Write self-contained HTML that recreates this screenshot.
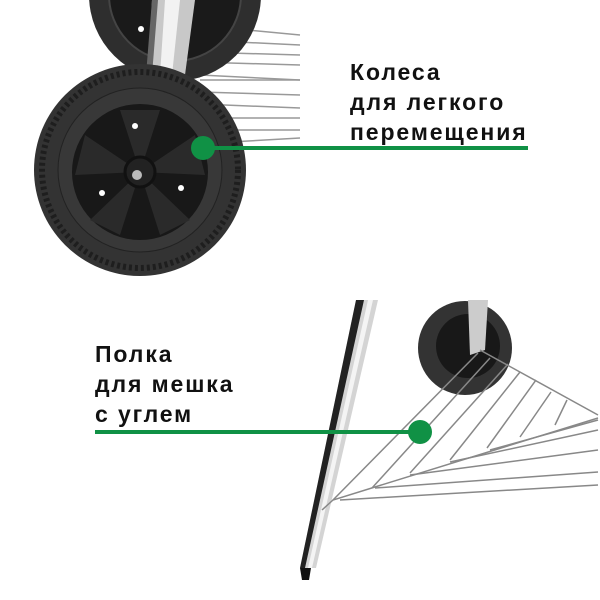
<!DOCTYPE html>
<html><head><meta charset="utf-8"><style>
body{margin:0;background:#fff}
.t{position:absolute;font-family:"Liberation Sans",sans-serif;font-weight:bold;font-size:23px;line-height:30px;color:#111;letter-spacing:1.9px}
</style></head><body>
<div style="position:relative;width:600px;height:600px;overflow:hidden">
<svg width="600" height="600" style="position:absolute;left:0;top:0">
<g stroke="#999" stroke-width="1.5">
<line x1="195" y1="25" x2="300" y2="35"/><line x1="195" y1="40" x2="300" y2="45"/>
<line x1="195" y1="52" x2="300" y2="55"/><line x1="195" y1="62" x2="300" y2="65"/>
<line x1="200" y1="80" x2="300" y2="80"/><line x1="200" y1="92" x2="300" y2="95"/>
<line x1="200" y1="104" x2="300" y2="108"/><line x1="220" y1="118" x2="300" y2="118"/>
<line x1="230" y1="130" x2="300" y2="130"/><line x1="230" y1="142" x2="300" y2="138"/>
<line x1="200" y1="75" x2="300" y2="80"/>
</g>
<circle cx="175" cy="-5" r="86" fill="#2e2e2e"/>
<circle cx="175" cy="-5" r="66" fill="#1a1a1a" stroke="#444" stroke-width="2"/>
<circle cx="141" cy="29" r="3" fill="#fff"/>
<polygon points="152,0 195,0 185,75 148,75" fill="#c8c8c8"/>
<polygon points="165,0 180,0 172,75 160,75" fill="#f2f2f2"/>
<polygon points="152,0 158,0 152,75 146,75" fill="#666"/>
<circle cx="140" cy="170" r="106" fill="#333"/>
<circle cx="140" cy="170" r="98" fill="none" stroke="#1e1e1e" stroke-width="6" stroke-dasharray="3 3"/>
<circle cx="140" cy="170" r="82" fill="#383838" stroke="#222" stroke-width="1"/>
<circle cx="140" cy="172" r="68" fill="#181818"/>
<g fill="#2a2a2a">
<polygon points="140,172 120,110 160,110"/><polygon points="140,172 195,135 205,175"/>
<polygon points="140,172 190,220 160,235"/><polygon points="140,172 120,235 90,220"/>
<polygon points="140,172 75,175 85,135"/>
</g>
<circle cx="140" cy="172" r="15" fill="#222" stroke="#111" stroke-width="3"/>
<circle cx="137" cy="175" r="5" fill="#bbb"/>
<circle cx="135" cy="126" r="3" fill="#fff"/><circle cx="181" cy="188" r="3" fill="#fff"/><circle cx="102" cy="193" r="3" fill="#fff"/>
<line x1="203" y1="148" x2="528" y2="148" stroke="#109145" stroke-width="4"/>
<circle cx="203" cy="148" r="12" fill="#109145"/>
<polygon points="356,300 378,300 316,568 300,568" fill="#d4d4d4"/>
<polygon points="356,300 364,300 305,568 300,568" fill="#222"/>
<polygon points="368,300 373,300 312,568 308,568" fill="#f4f4f4"/>
<polygon points="300,568 311,568 309,580 302,580" fill="#111"/>
<circle cx="465" cy="348" r="47" fill="#333"/>
<circle cx="468" cy="346" r="32" fill="#181818"/>
<polygon points="468,300 488,300 485,350 470,355" fill="#ccc"/>
<g stroke="#888" stroke-width="1.5" fill="none">
<polyline points="322,510 333,500 598,418"/>
<polyline points="480,350 598,415"/>
<line x1="333" y1="500" x2="478" y2="353"/><line x1="372" y1="488" x2="490" y2="358"/>
<line x1="410" y1="473" x2="508" y2="364"/><line x1="450" y1="460" x2="520" y2="372"/>
<line x1="487" y1="448" x2="536" y2="380"/><line x1="520" y1="437" x2="551" y2="392"/>
<line x1="555" y1="425" x2="567" y2="400"/>
<line x1="340" y1="500" x2="598" y2="485"/><line x1="375" y1="488" x2="598" y2="472"/>
<line x1="410" y1="475" x2="598" y2="450"/><line x1="450" y1="462" x2="598" y2="430"/>
<line x1="490" y1="450" x2="598" y2="420"/>
</g>
<line x1="95" y1="432" x2="420" y2="432" stroke="#109145" stroke-width="4"/>
<circle cx="420" cy="432" r="12" fill="#109145"/>
</svg>
<div class="t" style="left:350px;top:57px">Колеса<br>для легкого<br>перемещения</div>
<div class="t" style="left:95px;top:339px">Полка<br>для мешка<br>с углем</div>
</div>
</body></html>
